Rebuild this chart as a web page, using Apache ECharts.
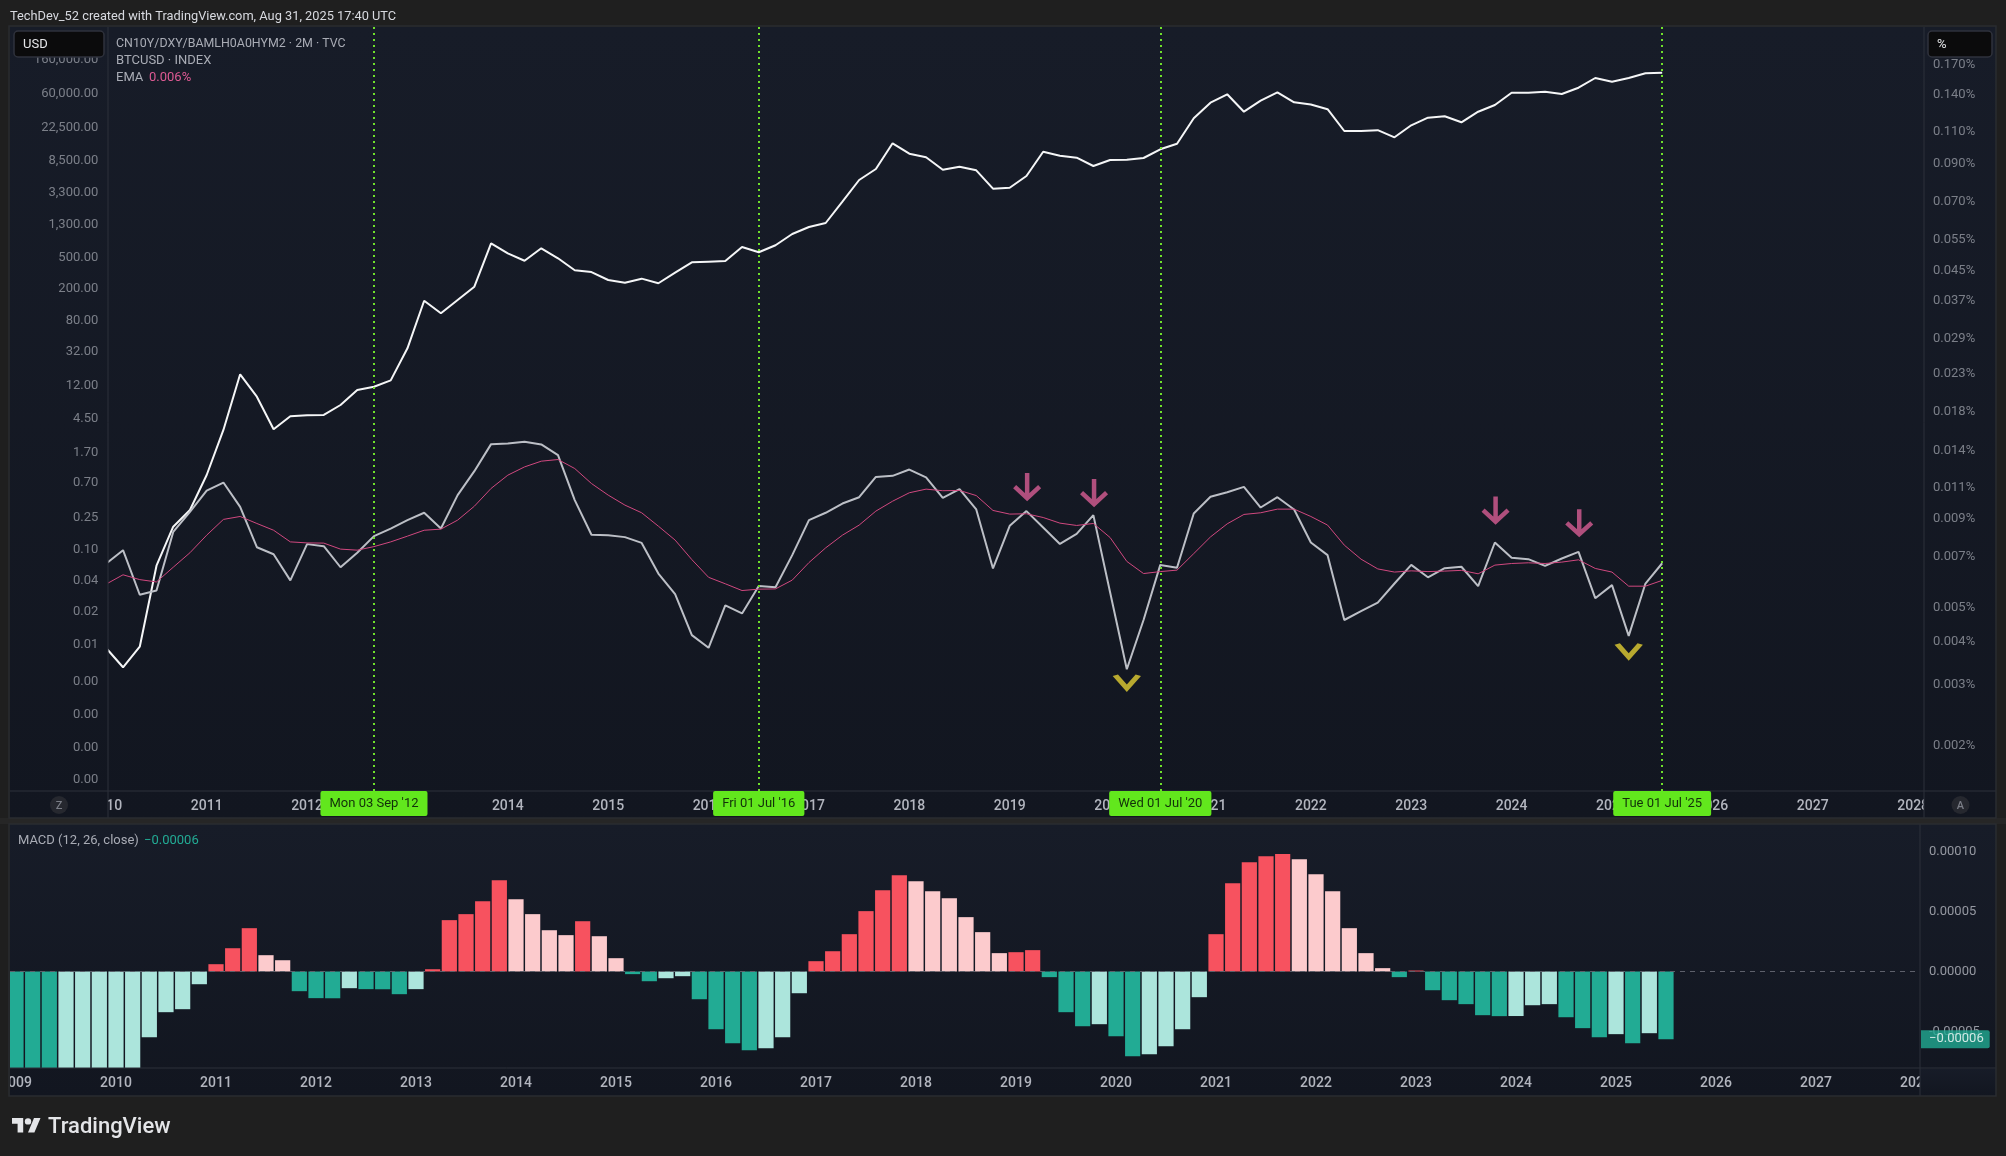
<!DOCTYPE html>
<html>
<head>
<meta charset="utf-8">
<title>CN10Y/DXY/BAMLH0A0HYM2 vs BTCUSD</title>
<script src="https://cdn.jsdelivr.net/npm/echarts@6/dist/echarts.min.js"></script>
<style>
  html, body { margin: 0; padding: 0; background: #1f1f1f; }
  #chart { width: 2006px; height: 1156px; }
</style>
</head>
<body>
<div id="chart"></div>
<script>
// 2-month bars, index 0 of the main pane is Jan 2010
var btcusd = [
  0.0054, 0.0031, 0.00565, 0.0602, 0.188, 0.306, 0.851, 3.17, 16.1, 8.37, 3.23, 4.72,
  4.86, 4.91, 6.57, 10.2, 11.2, 13.5, 34.4, 138, 95.6, 141, 208, 739,
  551, 444, 638, 477, 336, 319, 253, 234, 263, 230, 313, 424,
  432, 440, 663, 568, 697, 969, 1189, 1336, 2488, 4690, 6465, 13700,
  10110, 9100, 6335, 6916, 6225, 3638, 3746, 5270, 10715, 9534, 8993, 7057,
  8410, 8483, 8915, 11495, 13535, 28410, 44820, 57280, 34460, 47510, 60730, 45350,
  42510, 37070, 19620, 19620, 20080, 16320, 23170, 28920, 30130, 25290, 34460, 41900,
  60010, 60010, 61800, 57780, 69450, 92200, 82750, 92200, 105800, 107600
];
var ratio = [
  0.00665, 0.00725, 0.00543, 0.00558, 0.00816, 0.00929, 0.01066, 0.01124, 0.0096, 0.00739, 0.00706, 0.00596,
  0.00754, 0.00744, 0.00649, 0.00713, 0.00794, 0.00834, 0.00881, 0.00924, 0.00834, 0.01036, 0.0121, 0.01442,
  0.01448, 0.01464, 0.01439, 0.01343, 0.01003, 0.00801, 0.00799, 0.00789, 0.0076, 0.00623, 0.00545, 0.00418,
  0.00385, 0.00507, 0.00481, 0.00575, 0.0057, 0.00702, 0.00881, 0.00924, 0.00981, 0.01022, 0.01166, 0.01174,
  0.01223, 0.01162, 0.01018, 0.01077, 0.00944, 0.00644, 0.00849, 0.00934, 0.0084, 0.00755, 0.00806, 0.0091,
  0.00552, 0.00335, 0.00461, 0.00659, 0.00647, 0.0092, 0.01025, 0.01056, 0.01093, 0.00956, 0.01022, 0.00944,
  0.00762, 0.00702, 0.00461, 0.00488, 0.00516, 0.00584, 0.00659, 0.00608, 0.00645, 0.00651, 0.00574, 0.00762,
  0.0069, 0.00684, 0.00655, 0.00687, 0.00717, 0.00531, 0.00578, 0.00416, 0.00584, 0.00666
];
var ema = [
  0.00582, 0.00618, 0.00599, 0.0059, 0.00649, 0.00713, 0.00799, 0.00885, 0.00902, 0.00862, 0.00825, 0.00765,
  0.0076, 0.00759, 0.0073, 0.00725, 0.00742, 0.00765, 0.00794, 0.00825, 0.00831, 0.00881, 0.00964, 0.01082,
  0.01179, 0.01244, 0.01291, 0.01305, 0.01231, 0.01117, 0.01036, 0.00971, 0.00924, 0.00847, 0.00774, 0.00682,
  0.00608, 0.00583, 0.00558, 0.00563, 0.00564, 0.00597, 0.00669, 0.00736, 0.00799, 0.00853, 0.00934, 0.00996,
  0.01052, 0.01077, 0.01066, 0.01068, 0.01033, 0.00938, 0.00916, 0.00918, 0.00896, 0.00864, 0.00851, 0.00862,
  0.00787, 0.00674, 0.00623, 0.00631, 0.00637, 0.00709, 0.0079, 0.0086, 0.00914, 0.00924, 0.00946, 0.00946,
  0.00902, 0.00853, 0.00749, 0.00684, 0.00642, 0.00629, 0.00634, 0.00631, 0.00633, 0.00636, 0.00622, 0.00658,
  0.00665, 0.00668, 0.00665, 0.00671, 0.00681, 0.00644, 0.00629, 0.00574, 0.00574, 0.00596
];
// MACD histogram in units of 0.00001, index 0 is Jan 2009. First bars run off the pane.
var macdHist = [
  -9.5, -10.5, -11.5, -11, -10.5, -10, -9.5, -9, -5.47, -3.39, -3.14, -1.06,
  0.61, 1.94, 3.61, 1.36, 0.94, -1.64, -2.22, -2.23, -1.39, -1.47, -1.48, -1.89,
  -1.47, 0.19, 4.28, 4.78, 5.86, 7.61, 6.03, 4.78, 3.44, 3.03, 4.19, 2.94,
  1.11, -0.22, -0.81, -0.56, -0.39, -2.31, -4.81, -5.97, -6.56, -6.39, -5.47, -1.81,
  0.86, 1.69, 3.11, 5.03, 6.78, 8.03, 7.53, 6.69, 6.11, 4.53, 3.28, 1.53,
  1.61, 1.78, -0.47, -3.39, -4.56, -4.39, -5.39, -7.06, -6.89, -6.22, -4.81, -2.14,
  3.11, 7.36, 9.11, 9.61, 9.78, 9.36, 8.11, 6.69, 3.61, 1.53, 0.28, -0.47,
  0.08, -1.56, -2.39, -2.72, -3.64, -3.72, -3.71, -2.81, -2.72, -3.81, -4.72, -5.47,
  -5.22, -5.97, -5.14, -5.64
];

var usdTicks = [160000, 60000, 22500, 8500, 3300, 1300, 500, 200, 80, 32, 12, 4.5, 1.7, 0.7, 0.25, 0.1, 0.04, 0.016, 0.0062, 0.0021, 0.0008, 0.0003, 0.00012];
var pctTicks = [0.1695, 0.1398, 0.11, 0.08951, 0.0699, 0.0546, 0.04465, 0.03676, 0.02872, 0.02289, 0.0179, 0.01389, 0.01093, 0.00894, 0.00699, 0.00502, 0.00402, 0.00304, 0.00205];
var macdTicks = [10, 5, 0, -5];

// bar index on main pane + tag text
var cycleBars = [16, 39, 63, 93];
var cycleTags = ["Mon 03 Sep '12", "Fri 01 Jul '16", "Wed 01 Jul '20", "Tue 01 Jul '25"];
var topArrows = [[55, 0.01095], [59, 0.01053], [83, 0.0094], [88, 0.00866]];
var lowMarks = [[61, 0.00307], [91, 0.00376]];

var mainXTicks = [];
for (var j = 0; j <= 108; j += 6) mainXTicks.push(j);
var macdXTicks = [];
for (var k = 0; k <= 114; k += 6) macdXTicks.push(k);

function pairs(arr) {
  return arr.map(function (v, i) { return [i, v]; });
}
function usdLabel(v) {
  return v.toLocaleString('en-US', { minimumFractionDigits: 2, maximumFractionDigits: 2 });
}
function macdLabel(v) {
  return (v * 1e-5).toFixed(5);
}
function histColor(v, i) {
  var prev = i ? macdHist[i - 1] : 0;
  if (v >= 0) return v > prev ? '#f7525f' : '#fccbcd';
  return v < prev ? '#22ab94' : '#ace5dc';
}
function renderHistBar(params, api) {
  var x = api.value(0), v = api.value(1);
  var base = api.coord([x, 0]);
  var tip = api.coord([x, v]);
  var shape = echarts.graphic.clipRectByRect({
    x: base[0] - 7.6,
    y: Math.min(base[1], tip[1]),
    width: 15.2,
    height: Math.abs(tip[1] - base[1])
  }, params.coordSys);
  return shape && { type: 'rect', shape: shape, style: { fill: histColor(v, params.dataIndex) } };
}

var FONT = 'Roboto, "Noto Sans", sans-serif';
var paneFill = { type: 'linear', x: 0, y: 0, x2: 0, y2: 1, colorStops: [{ offset: 0, color: '#171c28' }, { offset: 1, color: '#121620' }] };
var edge = '#2d303a';

function rect(x, y, w, h, fill, z, r, stroke) {
  return { type: 'rect', silent: true, z: z, shape: { x: x, y: y, width: w, height: h, r: r || 0 }, style: { fill: fill, stroke: stroke || null, lineWidth: stroke ? 1.5 : 0 } };
}
function vline(x, y1, y2, z) {
  return { type: 'line', silent: true, z: z, shape: { x1: x, y1: y1, x2: x, y2: y2 }, style: { stroke: edge, lineWidth: 1 } };
}
function hline(x1, x2, y, z) {
  return { type: 'line', silent: true, z: z, shape: { x1: x1, y1: y, x2: x2, y2: y }, style: { stroke: edge, lineWidth: 1 } };
}
function text(str, x, y, size, fill, z, weight, align) {
  return { type: 'text', silent: true, z: z, style: { text: str, x: x, y: y, fill: fill, align: align || 'left', verticalAlign: 'middle', font: (weight || 400) + ' ' + size + 'px ' + FONT } };
}
function logoPoly(points) {
  return { type: 'polygon', silent: true, z: 20, shape: { points: points }, style: { fill: '#e4e5e8' } };
}

var graphicItems = [
  // panes
  rect(10, 27, 1986, 791, paneFill, -10),
  rect(10, 824, 1986, 272, paneFill, -10),
  rect(0, 818, 2006, 6, '#262626', -9),
  // strips that cut the time and price labels at the pane edges
  rect(10, 27, 98, 791, paneFill, 4),
  rect(1924, 27, 72, 791, paneFill, 4),
  rect(0, 1060, 10, 40, '#1f1f1f', 4),
  rect(1920, 1069, 76, 27, paneFill, 4),
  vline(108, 27, 818, 5),
  vline(1924, 27, 818, 5),
  hline(10, 1996, 791, 5),
  vline(1920, 824, 1096, 5),
  hline(10, 1996, 1068, 5),
  rect(9, 26, 1987, 792, null, 5, 0, '#2a2c31'),
  rect(9, 824, 1987, 272, null, 5, 0, '#2a2c31'),
  // header, legends
  text('TechDev_52 created with TradingView.com, Aug 31, 2025 17:40 UTC', 10, 17, 12.8, '#d8dae0', 20),
  text('CN10Y/DXY/BAMLH0A0HYM2 \u00b7 2M \u00b7 TVC', 116, 44, 12.4, '#a9acb5', 20),
  text('BTCUSD \u00b7 INDEX', 116, 61, 13, '#a9acb5', 20),
  text('EMA', 116, 78, 13, '#a9acb5', 20),
  text('0.006%', 149, 78, 13, '#dd5a93', 20),
  text('MACD (12, 26, close)', 18, 841, 13, '#a9acb5', 20),
  text('\u22120.00006', 144, 841, 13, '#22ab94', 20),
  // unit boxes
  rect(14, 31, 90, 26, '#0b0b0c', 20, 4, '#2f323c'),
  text('USD', 23, 45, 13, '#e6e7ea', 21),
  rect(1928, 31, 64, 26, '#0b0b0c', 20, 4, '#2f323c'),
  text('%', 1937, 45, 13, '#e6e7ea', 21),
  // Z and A buttons
  { type: 'circle', silent: true, z: 20, shape: { cx: 59, cy: 805, r: 9 }, style: { fill: '#26282f' } },
  text('Z', 59, 806, 11, '#7b7e87', 21, 500, 'center'),
  { type: 'circle', silent: true, z: 20, shape: { cx: 1960.5, cy: 805, r: 9 }, style: { fill: '#26282f' } },
  text('A', 1960.5, 806, 11, '#7b7e87', 21, 500, 'center'),
  // footer logo
  logoPoly([[12, 1118], [23.2, 1118], [23.2, 1132.6], [17.6, 1132.6], [17.6, 1123.8], [12, 1123.8]]),
  logoPoly([[34, 1118], [40.5, 1118], [34.4, 1132.6], [28, 1132.6]]),
  { type: 'circle', silent: true, z: 20, shape: { cx: 28, cy: 1121.4, r: 3.2 }, style: { fill: '#e4e5e8' } },
  text('TradingView', 48, 1127, 22, '#e4e5e8', 20, 500)
];

var option = {
  backgroundColor: '#1f1f1f',
  animation: false,
  textStyle: { fontFamily: FONT },
  graphic: graphicItems,
  grid: [
    // outerBoundsMode none: the clipped 2009 label must not push the grid in
    { left: 106.3, top: 27, width: 1817.7, height: 764, outerBoundsMode: 'none' },
    { left: 10, top: 824, width: 1910, height: 244, outerBoundsMode: 'none' }
  ],
  xAxis: [{
    type: 'value', gridIndex: 0, min: 0, max: 108.65, z: 3,
    axisLine: { show: false }, axisTick: { show: false }, splitLine: { show: false },
    axisLabel: {
      customValues: mainXTicks, margin: 8.5, fontSize: 14, fontWeight: 500, color: '#b2b5be',
      formatter: function (v) { return String(2010 + v / 6); }
    }
  }, {
    type: 'value', gridIndex: 1, min: -0.36, max: 114.24, z: 3,
    axisLine: { show: false }, axisTick: { show: false }, splitLine: { show: false },
    axisLabel: {
      customValues: macdXTicks, margin: 8.5, fontSize: 14, fontWeight: 500, color: '#b2b5be',
      formatter: function (v) { return String(2009 + v / 6); }
    }
  }],
  yAxis: [{
    type: 'log', gridIndex: 0, logBase: 10, min: 8.36e-5, max: 408900,
    axisLine: { show: false }, axisTick: { show: false }, axisLabel: { show: false }, splitLine: { show: false }
  }, {
    type: 'log', gridIndex: 0, logBase: 10, position: 'right', min: 0.001521, max: 0.2156,
    axisLine: { show: false }, axisTick: { show: false }, axisLabel: { show: false }, splitLine: { show: false }
  }, {
    type: 'value', gridIndex: 1, position: 'right', min: -8.04, max: 12.29, z: 6,
    axisLine: { show: false }, axisTick: { show: false }, splitLine: { show: false },
    axisLabel: { customValues: macdTicks, margin: 9, fontSize: 13, color: '#9598a1', padding: [2, 0, 0, 0], formatter: macdLabel }
  }],
  series: [{
    name: 'BTCUSD', type: 'line', xAxisIndex: 0, yAxisIndex: 0, z: 2,
    data: pairs(btcusd), showSymbol: false, lineStyle: { color: '#f5f6f7', width: 2 },
    markLine: {
      silent: true, symbol: 'none', z: 6,
      lineStyle: { color: '#6fe02c', width: 2, type: [2, 4] },
      label: {
        position: 'start', distance: 0, color: '#12300a', backgroundColor: '#62e71d',
        fontSize: 13, padding: [6, 9, 6, 9], borderRadius: 2,
        formatter: function (p) { return p.name; }
      },
      data: cycleBars.map(function (b, i) { return { xAxis: b, name: cycleTags[i] }; })
    }
  }, {
    name: 'CN10Y/DXY/BAMLH0A0HYM2', type: 'line', xAxisIndex: 0, yAxisIndex: 1, z: 2,
    data: pairs(ratio), showSymbol: false, lineStyle: { color: '#bcbfc6', width: 2 }
  }, {
    name: 'EMA', type: 'line', xAxisIndex: 0, yAxisIndex: 1, z: 2,
    data: pairs(ema), showSymbol: false, lineStyle: { color: '#d0487f', width: 1 }
  }, {
    name: 'tops', type: 'scatter', xAxisIndex: 0, yAxisIndex: 1, z: 3,
    symbol: 'path://M12 0V24M2 13L12 24L22 13', symbolSize: [25, 25], symbolOffset: [0.7, -1],
    itemStyle: { color: 'rgba(0,0,0,0)', borderColor: '#b04f7d', borderWidth: 4.5, opacity: 1 },
    data: topArrows
  }, {
    name: 'lows', type: 'scatter', xAxisIndex: 0, yAxisIndex: 1, z: 3,
    symbol: 'path://M1 1L12 13L23 1', symbolSize: [23, 13], symbolOffset: [0, -1],
    itemStyle: { color: 'rgba(0,0,0,0)', borderColor: '#b8a92f', borderWidth: 4.5, opacity: 1 },
    data: lowMarks
  }, {
    name: 'USD ticks', type: 'scatter', xAxisIndex: 0, yAxisIndex: 0, z: 6, symbolSize: 0, clip: false,
    itemStyle: { color: 'rgba(0,0,0,0)' },
    label: {
      show: true, position: 'left', distance: 8, offset: [0, 1], fontSize: 13, color: '#9598a1',
      formatter: function (p) { return usdLabel(p.value[1]); }
    },
    data: usdTicks.map(function (v) { return [0, v]; })
  }, {
    name: '% ticks', type: 'scatter', xAxisIndex: 0, yAxisIndex: 1, z: 6, symbolSize: 0, clip: false,
    itemStyle: { color: 'rgba(0,0,0,0)' },
    label: {
      show: true, position: 'right', distance: 9, offset: [0, 1], fontSize: 13, color: '#9598a1',
      formatter: function (p) { return p.value[1].toFixed(3) + '%'; }
    },
    data: pctTicks.map(function (v) { return [108.65, v]; })
  }, {
    name: 'MACD', type: 'custom', xAxisIndex: 1, yAxisIndex: 2, z: 2,
    renderItem: renderHistBar,
    encode: { x: 0, y: 1 },
    data: pairs(macdHist)
  }, {
    name: 'MACD last', type: 'scatter', xAxisIndex: 1, yAxisIndex: 2, z: 10, symbolSize: 0, clip: false,
    itemStyle: { color: 'rgba(0,0,0,0)' },
    label: {
      show: true, position: 'right', distance: 1, color: '#fff', backgroundColor: '#22ab94',
      fontSize: 13, padding: [3, 6, 2, 8], borderRadius: [0, 2, 2, 0],
      formatter: function () { return '\u22120.00006'; }
    },
    data: [[114.24, macdHist[macdHist.length - 1]]],
    markLine: {
      silent: true, symbol: 'none', z: 3, label: { show: false },
      lineStyle: { color: '#5d606b', width: 1, type: [5, 5] },
      data: [{ yAxis: 0 }]
    }
  }]
};

var chart = echarts.init(document.getElementById('chart'));
chart.setOption(option);
</script>
</body>
</html>
